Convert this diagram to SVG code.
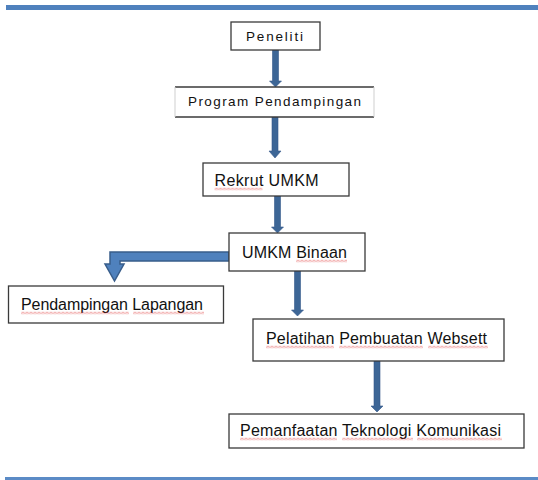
<svg xmlns="http://www.w3.org/2000/svg" width="538" height="480" viewBox="0 0 538 480">
<defs>
<pattern id="wave" width="4" height="3" patternUnits="userSpaceOnUse">
<path d="M0,2.5 L2,0.5 L4,2.5" fill="none" stroke="#e04040" stroke-width="0.8"/>
</pattern>
<style>
.box{fill:#fff;stroke:#3a3a3a;stroke-width:1.3}
.t{font-family:"Liberation Sans",Arial,sans-serif;font-size:16px;fill:#111}
.ts{font-family:"Liberation Sans",Arial,sans-serif;font-size:13.5px;fill:#111}
.arr{fill:#3d6696;stroke:#35598a;stroke-width:0.6}
.elbow{fill:#4f81bd;stroke:#385d8a;stroke-width:1.5}
</style>
</defs>
<rect x="6" y="5" width="532" height="5" fill="#4f81bd"/>
<rect x="5" y="477" width="533" height="3" fill="#5b8bc6"/>

<g id="connectors">
<path class="arr" d="M272.5,50 H278.5 V81 H281.5 L275.5,87 L269.5,81 H272.5 Z"/>
<path class="arr" d="M272,117 H278 V151 H281 L275,158 L269,151 H272 Z"/>
<path class="arr" d="M274.5,196 H280.5 V227 H283.5 L277.5,233 L271.5,227 H274.5 Z"/>
<path class="arr" d="M294.5,271 H300.5 V310 H303.5 L297.5,316 L291.5,310 H294.5 Z"/>
<path class="arr" d="M374,361 H380 V406 H383 L377,412 L371,406 H374 Z"/>
<path class="elbow" d="M229,252 H110 V264 H105 L114.5,281 L124,264 H120 V261 H229 Z"/>
</g>

<g id="peneliti">
<rect class="box" x="231" y="22" width="89" height="28"/>
<text class="ts" x="246" y="41" textLength="57">Peneliti</text>
</g>

<g id="program">
<rect x="175" y="87" width="199" height="30" fill="#fff"/>
<line x1="175" y1="87" x2="374" y2="87" stroke="#3a3a3a" stroke-width="1.3"/>
<line x1="175" y1="117" x2="374" y2="117" stroke="#3a3a3a" stroke-width="1.3"/>
<line x1="175" y1="87" x2="175" y2="117" stroke="#cfcfcf" stroke-width="1"/>
<line x1="374" y1="87" x2="374" y2="117" stroke="#cfcfcf" stroke-width="1"/>
<text class="ts" x="188" y="106" textLength="173">Program Pendampingan</text>
</g>

<g id="rekrut">
<rect class="box" x="203" y="163" width="146" height="33"/>
<text class="t" x="214.5" y="186" textLength="104">Rekrut UMKM</text>
<rect x="0" y="0" width="48" height="3" fill="url(#wave)" transform="translate(214.5,187.5)"/>
</g>

<g id="binaan">
<rect class="box" x="229" y="233" width="136" height="38"/>
<text class="t" x="242" y="258" textLength="105">UMKM Binaan</text>
<rect x="0" y="0" width="51" height="3" fill="url(#wave)" transform="translate(296,259.5)"/>
</g>

<g id="lapangan">
<rect class="box" x="8.5" y="286" width="215" height="37"/>
<text class="t" x="21" y="310" textLength="182">Pendampingan Lapangan</text>
<rect x="0" y="0" width="108" height="3" fill="url(#wave)" transform="translate(21,311.5)"/>
<rect x="0" y="0" width="71" height="3" fill="url(#wave)" transform="translate(133,311.5)"/>
</g>

<g id="pelatihan">
<rect class="box" x="253" y="319" width="251" height="42"/>
<text class="t" x="266" y="344" textLength="221">Pelatihan Pembuatan Websett</text>
<rect x="0" y="0" width="68" height="3" fill="url(#wave)" transform="translate(266,345.5)"/>
<rect x="0" y="0" width="84" height="3" fill="url(#wave)" transform="translate(339,345.5)"/>
<rect x="0" y="0" width="60" height="3" fill="url(#wave)" transform="translate(428,345.5)"/>
</g>

<g id="pemanfaatan">
<rect class="box" x="229" y="414" width="295" height="34"/>
<text class="t" x="240" y="436" textLength="261">Pemanfaatan Teknologi Komunikasi</text>
<rect x="0" y="0" width="97" height="3" fill="url(#wave)" transform="translate(240,437.5)"/>
<rect x="0" y="0" width="71" height="3" fill="url(#wave)" transform="translate(342,437.5)"/>
<rect x="0" y="0" width="85" height="3" fill="url(#wave)" transform="translate(417,437.5)"/>
</g>
</svg>
